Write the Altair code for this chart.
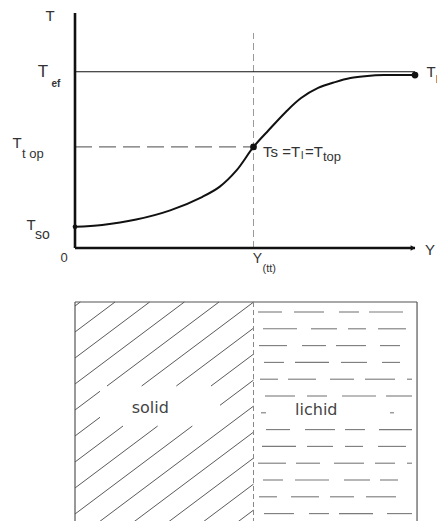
import altair as alt
import numpy as np
import pandas as pd

# Temperature profile T(Y) across the solidifying layer (Y normalised to 1)
curve_y = [0.0, 0.08, 0.18, 0.28, 0.375, 0.425, 0.475, 0.525, 0.57, 0.62,
           0.665, 0.715, 0.765, 0.81, 0.86, 0.91, 1.0]
curve_t = [9.0, 9.8, 12.1, 16.0, 21.8, 26.0, 33.0, 43.0, 50.2, 57.9,
           63.8, 68.1, 70.6, 72.3, 73.2, 73.6, 73.6]

T_SO = 9.0      # initial solid temperature
T_TOP = 43.0    # melting temperature
T_EF = 75.0     # effective temperature
Y_TT = 0.525    # position of the solid/liquid front
T_MAX = 100.0   # top of the T axis
Y_MAX = 1.0     # end of the Y axis

# ---- layout (pixels) -------------------------------------------------------
W, H = 340, 235
PX = 1.0 / W                      # one pixel in Y units
INK = "#333333"
LINE = "#111111"
GREY = "#6f6f6f"
FONT = "Liberation Sans"

XS = alt.Scale(domain=[0, Y_MAX], nice=False, zero=False)
TS = alt.Scale(domain=[0, T_MAX], nice=False, zero=False)
# depth scale of the lower schematic, in pixels below the plot top
DEPTH = 219
DS = alt.Scale(domain=[0, DEPTH], range=[289, 289 + DEPTH], nice=False, zero=False)


def X(f="x"):
    return alt.X(f"{f}:Q", scale=XS, axis=None)


def T(f="t"):
    return alt.Y(f"{f}:Q", scale=TS, axis=None)


def D(f="d"):
    return alt.Y(f"{f}:Q", scale=DS, axis=None)


def label(text, x, t, dx, dy, size=15, weight="normal", align="center", color=INK):
    df = pd.DataFrame({"x": [x], "t": [t], "label": [text]})
    return alt.Chart(df).mark_text(
        dx=dx, dy=dy, fontSize=size, fontWeight=weight, align=align,
        baseline="middle", font=FONT, color=color,
    ).encode(x=X(), y=T(), text="label:N")


# ---- upper diagram: T(Y) ---------------------------------------------------
axes_df = pd.DataFrame({"x": [0, 0], "x2": [0, Y_MAX], "t": [0, 0], "t2": [T_MAX, 0]})
axes = alt.Chart(axes_df).mark_rule(color=LINE, strokeWidth=2.6).encode(
    x=X(), x2="x2:Q", y=T(), y2="t2:Q")

arrow = alt.Chart(pd.DataFrame({"x": [Y_MAX], "t": [0]})).mark_point(
    shape="triangle-right", filled=True, size=30, color=LINE, opacity=1, xOffset=-2
).encode(x=X(), y=T())

tef_line = alt.Chart(pd.DataFrame({"x": [0], "x2": [Y_MAX], "t": [T_EF]})).mark_rule(
    color=LINE, strokeWidth=1.2).encode(x=X(), x2="x2:Q", y=T())

ttop_line = alt.Chart(pd.DataFrame({"x": [0], "x2": [Y_TT], "t": [T_TOP]})).mark_rule(
    color=GREY, strokeWidth=1.3, strokeDash=[17, 7]).encode(x=X(), x2="x2:Q", y=T())

front_line = alt.Chart(pd.DataFrame({"x": [Y_TT], "t": [0], "t2": [91.5]})).mark_rule(
    color="#9a9a9a", strokeWidth=1, strokeDash=[7, 4]).encode(x=X(), y=T(), y2="t2:Q")

profile = alt.Chart(pd.DataFrame({"x": curve_y, "t": curve_t})).mark_line(
    color=LINE, strokeWidth=2, interpolate="catmull-rom").encode(x=X(), y=T())

dots_df = pd.DataFrame({"x": [0, Y_TT, curve_y[-1]],
                        "t": [T_SO, T_TOP, curve_t[-1]],
                        "s": [22, 45, 45]})
dots = alt.Chart(dots_df).mark_circle(color=LINE, opacity=1).encode(
    x=X(), y=T(), size=alt.Size("s:Q", scale=None, legend=None))

labels = [
    label("T", 0, T_MAX, -25, 3),
    label("T", 0, T_EF, -32, 0, size=17),
    label("ef", 0, T_EF, -19, 12, size=10, weight="bold"),
    label("T", 0, T_TOP, -58, -4),
    label("t op", 0, T_TOP, -53, 7, size=13, align="left"),
    label("T", 0, T_SO, -44, -2),
    label("so", 0, T_SO, -40, 8, size=14, align="left"),
    label("0", 0, 0, -11, 10, size=13),
    label("Y", Y_MAX, 0, 15, 2),
    label("Y", Y_TT, 0, 4, 11, size=14),
    label("(tt)", Y_TT, 0, 9, 21, size=11, align="left"),
    label("T", curve_y[-1], curve_t[-1], 16, -3),
    label("l", curve_y[-1], curve_t[-1], 22, 5, size=11),
    label("Ts =T", Y_TT, T_TOP, 9.5, 5, align="left"),
    label("l", Y_TT, T_TOP, 47.5, 9, size=11, align="left"),
    label("=T", Y_TT, T_TOP, 51.5, 5, align="left"),
    label("top", Y_TT, T_TOP, 69.5, 10, size=13, align="left"),
]

upper = alt.layer(ttop_line, front_line, tef_line, axes, arrow, profile, dots, *labels)

# ---- lower schematic: solid | liquid ---------------------------------------
X_RIGHT = 1.006
frame_df = pd.DataFrame({
    "x": [0, 0, X_RIGHT],
    "x2": [X_RIGHT, 0, X_RIGHT],
    "d": [0, 0, 0],
    "d2": [0, DEPTH + 5, DEPTH + 5],
})
frame = alt.Chart(frame_df).mark_rule(color="#555555", strokeWidth=1.2).encode(
    x=X(), x2="x2:Q", y=D(), y2="d2:Q")

divider = alt.Chart(pd.DataFrame({"x": [Y_TT], "d": [0], "d2": [DEPTH + 5]})).mark_rule(
    color="#888888", strokeWidth=1, strokeDash=[5, 3]).encode(x=X(), y=D(), y2="d2:Q")

# diagonal hatching of the solid, interrupted around its label
slope = 0.75 * W                     # depth pixels per Y unit
gap_x = (25 * PX, 145 * PX)
gap_d = (84, 124)
hatch = []
for k in range(-6, 14):
    d0 = 30 + 26 * k
    xa = max(0.0, (d0 - (DEPTH + 5)) / slope)
    xb = min(Y_TT, d0 / slope)
    if xa >= xb:
        continue
    ga = max(gap_x[0], (d0 - gap_d[1]) / slope)
    gb = min(gap_x[1], (d0 - gap_d[0]) / slope)
    pieces = [(xa, xb)]
    if ga < gb:
        pieces = [(xa, min(xb, ga)), (max(xa, gb), xb)]
    for a, b in pieces:
        if b - a > 1e-6:
            hatch.append({"x": a, "x2": b, "d": d0 - slope * a, "d2": d0 - slope * b})
hatch_layer = alt.Chart(pd.DataFrame(hatch)).mark_rule(
    color="#5a5a5a", strokeWidth=1).encode(x=X(), x2="x2:Q", y=D(), y2="d2:Q")

# broken horizontal dashes of the liquid
dash_lens = [24, 30, 20, 34, 26, 18, 28]
gap_lens = [12, 15, 10, 14, 11]
dashes = []
for i, d in enumerate(np.arange(10, DEPTH, 16.8)):
    pos = 258 + (i * 5) % 9
    j = i * 3
    while pos < 412:
        end = min(pos + dash_lens[j % 7], 412)
        segs = [(pos, end)]
        if 100 < d < 120:
            segs = [(pos, min(end, 266)), (max(pos, 390), end)]
        for a, b in segs:
            if b - a > 3:
                dashes.append({"x": (a - 75) * PX, "x2": (b - 75) * PX, "d": d})
        pos = end + gap_lens[j % 5]
        j += 1
dash_layer = alt.Chart(pd.DataFrame(dashes)).mark_rule(
    color="#7a7a7a", strokeWidth=1.1).encode(x=X(), x2="x2:Q", y=D())


def region_label(text, x, d, dx):
    df = pd.DataFrame({"x": [x], "d": [d], "label": [text]})
    return alt.Chart(df).mark_text(
        dx=dx, fontSize=16, font="DejaVu Sans", color="#444444", baseline="middle"
    ).encode(x=X(), y=D(), text="label:N")


lower = alt.layer(
    hatch_layer, dash_layer, frame, divider,
    region_label("solid", Y_TT / 2, 106, -14),
    region_label("lichid", (Y_TT + X_RIGHT) / 2, 108, -19),
)

chart = alt.layer(upper, lower).resolve_scale(y="independent").properties(
    width=W, height=H,
    autosize=alt.AutoSizeParams(type="none"),
    padding={"left": 75, "top": 13, "right": 22, "bottom": 273},
    background="white",
).configure_view(stroke=None)

chart.save("out.html", embed_options={"renderer": "svg", "actions": False})
